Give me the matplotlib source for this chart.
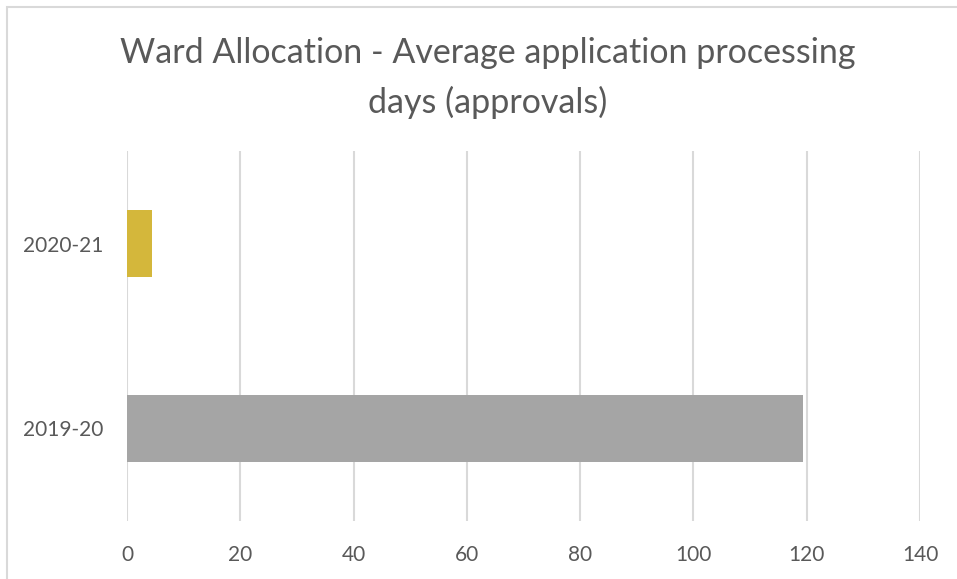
import matplotlib
matplotlib.use("Agg")
import matplotlib.pyplot as plt
from matplotlib.patches import Rectangle

# Data
categories = ["2019-20", "2020-21"]
avg_days = [119.3, 4.4]
bar_colors = ["#A5A5A5", "#D4B73B"]
x_ticks = [0, 20, 40, 60, 80, 100, 120, 140]
title_lines = ["Ward Allocation - Average application processing", "days (approvals)"]

W, H = 957, 579
fig = plt.figure(figsize=(W / 100, H / 100), dpi=100)
fig.patch.set_facecolor("white")

# Chart border (top and left edges visible)
fig.patches.append(Rectangle((7 / W, -0.1), 1.2, 1.1 - 7 / H, transform=fig.transFigure,
                             fill=False, edgecolor="#D9D9D9", linewidth=1.5))

ax = fig.add_axes([127 / W, 1 - 521 / H, (920 - 127) / W, (521 - 151) / H])
y = list(range(len(categories)))
ax.barh(y, avg_days, height=0.357, color=bar_colors, zorder=3)

ax.set_xlim(0, 140)
ax.set_ylim(-0.5, len(categories) - 0.5)
ax.set_xticks(x_ticks)
ax.set_yticks(y)
ax.set_yticklabels(categories)
ax.grid(axis="x", color="#D9D9D9", linewidth=1.5, zorder=0)
for s in ax.spines.values():
    s.set_visible(False)
ax.tick_params(length=0, colors="#595959", labelsize=15)
ax.tick_params(axis="x", pad=17)
ax.tick_params(axis="y", pad=17)
for lab in ax.get_xticklabels() + ax.get_yticklabels():
    lab.set_fontfamily("Lato")

for yb, line in zip([63, 113], title_lines):
    fig.text(488 / W, 1 - yb / H, line, ha="center", va="baseline",
             fontsize=24.5, color="#595959", family="Lato")

fig.savefig("out.png", dpi=100)
